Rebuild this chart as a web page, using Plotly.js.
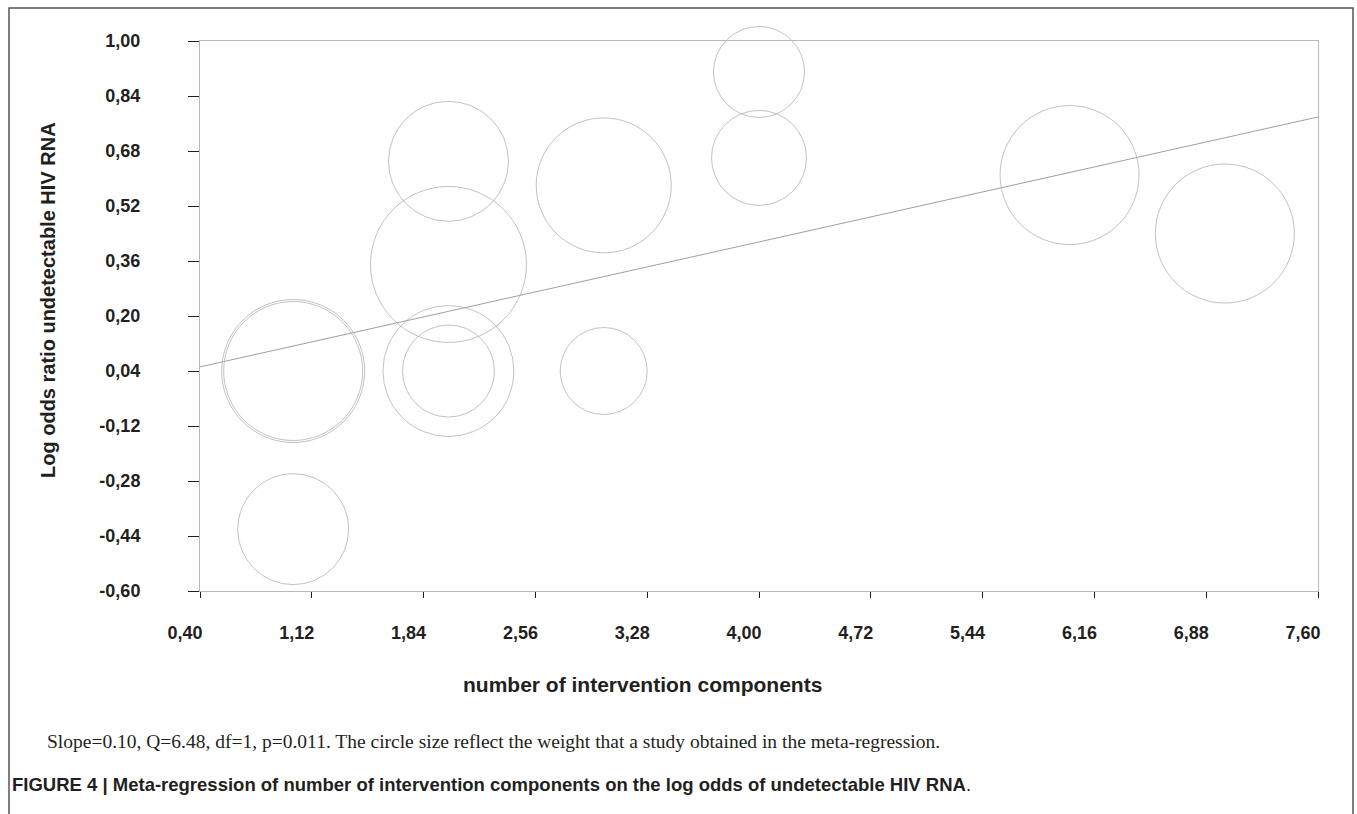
<!DOCTYPE html>
<html>
<head>
<meta charset="utf-8">
<script src="https://cdn.plot.ly/plotly-3.0.1.min.js"></script>
<style>html,body{margin:0;padding:0;background:#fff;}#chart{width:1357px;height:814px;}</style>
</head>
<body>
<div id="chart"></div>
<script>
// ---- data ----
const componentsX = [1, 1, 1, 2, 2, 2, 2, 3, 3, 4, 4, 6, 7];
const logOddsY    = [0.04, 0.04, -0.42, 0.04, 0.04, 0.35, 0.65, 0.58, 0.04, 0.91, 0.66, 0.61, 0.44];
const studyWeight = [14.3, 13.9, 11.1, 13.1, 9.2, 15.6, 12.0, 13.5, 8.7, 9.1, 9.5, 13.9, 13.9];
const regLineX = [0.40, 7.60];
const regLineY = [0.052, 0.779];
const xTickVals = [0.40, 1.12, 1.84, 2.56, 3.28, 4.00, 4.72, 5.44, 6.16, 6.88, 7.60];
const xTickText = ["0,40","1,12","1,84","2,56","3,28","4,00","4,72","5,44","6,16","6,88","7,60"];
const yTickVals = [-0.60, -0.44, -0.28, -0.12, 0.04, 0.20, 0.36, 0.52, 0.68, 0.84, 1.00];
const yTickText = ["-0,60","-0,44","-0,28","-0,12","0,04","0,20","0,36","0,52","0,68","0,84","1,00"];
const xTitle = "number of intervention components";
const yTitle = "Log odds ratio undetectable HIV RNA";
const noteText = "Slope=0.10, Q=6.48, df=1, p=0.011. The circle size reflect the weight that a study obtained in the meta-regression.";
const captionText = "<b>FIGURE 4 | Meta-regression of number of intervention components on the log odds of undetectable HIV RNA</b>.";

// ---- layout geometry ----
const W = 1357, H = 814;
const M = {l: 200, r: 39, t: 41, b: 223};
const PW = W - M.l - M.r, PH = H - M.t - M.b;
const px = x => (x - M.l) / PW;
const py = y => (H - M.b - y) / PH;

const sans = "'Liberation Sans', Arial, sans-serif";
const serif = "'Liberation Serif', 'Times New Roman', serif";
const ink = "#231f20";
const circleColor = "#a8a8a8";

const traces = [
  {
    type: "scatter", mode: "lines",
    x: regLineX, y: regLineY,
    line: {color: "#a0a0a0", width: 1},
    hoverinfo: "skip", showlegend: false
  },
  {
    type: "scatter", mode: "markers",
    x: componentsX, y: logOddsY,
    cliponaxis: false,
    marker: {
      symbol: "circle-open",
      size: studyWeight.map(w => w * 10),
      color: circleColor,
      line: {color: circleColor, width: 1}
    },
    showlegend: false
  }
];

const layout = {
  width: W, height: H,
  margin: M,
  paper_bgcolor: "#fff", plot_bgcolor: "#fff",
  showlegend: false,
  font: {family: sans, color: ink},
  xaxis: {
    range: [0.40, 7.60], autorange: false,
    tickmode: "array", tickvals: xTickVals, ticktext: xTickText,
    ticks: "outside", ticklen: 6, tickwidth: 1, tickcolor: ink,
    showline: true, linecolor: "#b8b8b8", linewidth: 1, mirror: true,
    showgrid: false, zeroline: false,
    tickfont: {family: sans, size: 18, color: ink, weight: "bold"},
    ticklabelstandoff: 19, ticklabelshift: -15
  },
  yaxis: {
    range: [-0.60, 1.00], autorange: false,
    tickmode: "array", tickvals: yTickVals, ticktext: yTickText,
    ticks: "outside", ticklen: 11, tickwidth: 1, tickcolor: ink,
    showline: true, linecolor: "#b8b8b8", linewidth: 1, mirror: true,
    showgrid: false, zeroline: false,
    tickfont: {family: sans, size: 18, color: ink, weight: "bold"},
    ticklabelstandoff: 44
  },
  annotations: [
    {text: "<b>" + xTitle + "</b>", xref: "paper", yref: "paper",
     x: px(642), y: py(684), xanchor: "center", yanchor: "middle", showarrow: false,
     font: {family: sans, size: 21, color: ink}},
    {text: "<b>" + yTitle + "</b>", xref: "paper", yref: "paper", textangle: -90,
     x: px(48), y: py(300), xanchor: "center", yanchor: "middle", showarrow: false,
     font: {family: sans, size: 20, color: ink}},
    {text: noteText, xref: "paper", yref: "paper",
     x: px(45), y: py(741), xanchor: "left", yanchor: "middle", showarrow: false,
     font: {family: serif, size: 19.5, color: ink}},
    {text: captionText, xref: "paper", yref: "paper",
     x: px(10), y: py(784), xanchor: "left", yanchor: "middle", showarrow: false,
     font: {family: sans, size: 18.5, color: ink}}
  ],
  shapes: [
    {type: "path", xref: "paper", yref: "paper",
     path: `M ${px(9)},${py(830)} L ${px(9)},${py(8)} L ${px(1353)},${py(8)} L ${px(1353)},${py(830)}`,
     line: {color: "#555", width: 1.5}}
  ]
};

Plotly.newPlot("chart", traces, layout, {displayModeBar: false, staticPlot: true});
</script>
</body>
</html>
